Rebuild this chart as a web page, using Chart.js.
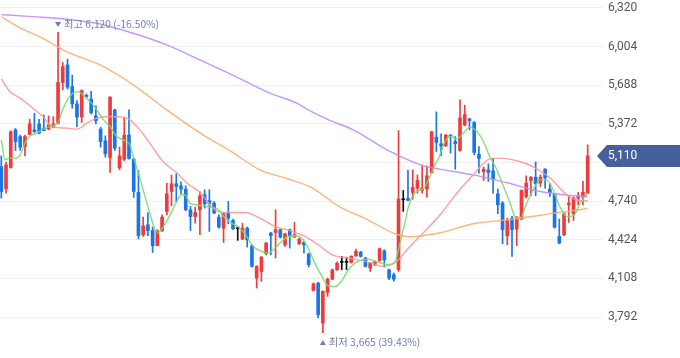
<!DOCTYPE html>
<html>
<head>
<meta charset="utf-8">
<script src="https://cdn.jsdelivr.net/npm/chart.js@4.4.1/dist/chart.umd.min.js"></script>
<style>
html,body{margin:0;padding:0;background:#fff;}
#wrap{width:680px;height:358px;position:relative;}
</style>
</head>
<body>
<div id="wrap"><canvas id="c"></canvas></div>
<script>
// ---- data ----
const opens  = [5023,4841,5015,5323,5268,5187,5284,5323,5372,5334,5329,5345,5378,5710,5854,5677,5535,5427,5606,5574,5437,5329,5233,5097,5486,5012,5083,5280,5083,4811,4465,4547,4500,4375,4498,4655,4819,4882,4865,4838,4669,4614,4669,4792,4745,4724,4609,4519,4647,4582,4514,4430,4519,4375,4111,4165,4310,4479,4484,4506,4383,4506,4446,4391,4402,4307,4010,4070,3743,3994,4102,4179,4239,4239,4239,4293,4323,4274,4193,4220,4255,4334,4179,4138,4179,4751,4762,4811,4846,4827,4838,4974,5263,5209,5192,5279,5228,5154,5361,5413,5383,5124,4980,4996,4988,4800,4724,4457,4601,4511,4593,4778,4909,4936,4887,5001,4838,4800,4451,4465,4710,4637,4765,4773,4805];
const highs  = [5110,5059,5315,5334,5280,5280,5410,5459,5410,5443,5437,5431,6120,5873,5901,5770,5562,5650,5617,5639,5519,5345,5274,5595,5492,5182,5427,5486,5092,4990,4609,4647,4528,4506,4628,4887,4953,4963,4898,4865,4696,4691,4816,4833,4833,4737,4628,4642,4737,4593,4533,4560,4528,4383,4212,4288,4402,4484,4669,4511,4479,4511,4566,4438,4410,4315,4070,4075,4007,4111,4184,4244,4288,4282,4293,4348,4329,4282,4239,4252,4356,4342,4184,4152,5317,4827,4991,4996,4955,5037,5029,5312,5470,5290,5287,5285,5268,5568,5525,5418,5391,5187,5018,5045,5091,4838,4737,4601,4615,4615,4833,4947,4941,5061,4955,5007,4882,4805,4593,4647,4778,4773,4811,4901,5200];
const lows   = [4765,4806,5010,5154,5154,5110,5282,5301,5290,5317,5323,5339,5372,5650,5656,5500,5350,5383,5582,5454,5372,5181,5100,4974,5154,4996,5072,5083,4770,4430,4451,4457,4320,4375,4492,4628,4702,4737,4800,4663,4500,4560,4465,4683,4492,4637,4519,4402,4555,4506,4419,4424,4364,4201,4029,4084,4301,4301,4274,4438,4370,4356,4443,4386,4315,4201,4004,3784,3665,3961,4097,4173,4179,4179,4233,4288,4282,4201,4165,4212,4247,4201,4097,4084,4165,4656,4746,4756,4805,4805,4773,4969,5146,5110,5187,5132,5001,5149,5356,5323,5119,4969,4909,4901,4805,4637,4391,4383,4288,4375,4587,4765,4784,4784,4860,4846,4778,4519,4391,4457,4566,4582,4710,4710,4800];
const closes = [4819,5037,5307,5227,5181,5268,5372,5309,5296,5317,5364,5372,5710,5840,5672,5535,5427,5644,5595,5464,5399,5227,5127,5590,5173,5110,5280,5088,4819,4457,4538,4500,4375,4498,4609,4800,4882,4860,4838,4669,4614,4647,4783,4718,4718,4642,4528,4637,4601,4514,4514,4519,4424,4206,4206,4282,4397,4457,4506,4446,4473,4457,4465,4429,4383,4220,4064,3811,4002,4102,4179,4233,4239,4239,4288,4329,4288,4206,4233,4247,4350,4260,4111,4102,4757,4751,4746,4852,4909,4846,4947,5307,5220,5192,5279,5268,5209,5421,5448,5399,5138,5089,5001,4974,4920,4710,4506,4582,4506,4609,4827,4887,4936,4882,4936,4931,4811,4527,4397,4637,4724,4765,4784,4813,5110];

// moving averages: [day index, value]
const ma5   = [[0,5241],[0.8,5078],[1.8,5092],[2.9,5092],[4.0,5119],[5.0,5214],[6.1,5274],[7.5,5296],[8.9,5329],[10.3,5350],[11.4,5364],[12.1,5391],[13.1,5500],[14.2,5582],[15.2,5623],[16.3,5636],[17.3,5609],[18.8,5554],[20.2,5486],[21.6,5405],[23.0,5350],[24.4,5268],[25.8,5241],[27.2,5200],[27.9,5105],[29.0,4969],[30.0,4833],[31.4,4642],[32.5,4506],[33.2,4484],[34.3,4533],[35.7,4628],[37.1,4737],[38.1,4792],[38.8,4792],[39.9,4724],[41.3,4710],[42.4,4702],[44.5,4691],[45.9,4669],[47.3,4601],[48.7,4560],[50.1,4528],[51.5,4473],[53.3,4369],[55.1,4328],[56.5,4315],[57.9,4356],[59.3,4410],[60.7,4451],[62.1,4457],[63.5,4438],[64.9,4356],[66.3,4233],[67.8,4124],[69.1,4048],[70.6,4042],[71.9,4083],[73.4,4179],[74.8,4233],[76.2,4260],[77.6,4266],[79.0,4247],[80.4,4233],[81.8,4220],[83.3,4247],[84.3,4397],[85.4,4573],[86.1,4696],[87.8,4819],[89.2,4838],[90.3,4914],[91.4,5010],[92.8,5119],[93.8,5227],[95.2,5268],[96.3,5247],[97.7,5296],[99.1,5345],[100.2,5323],[101.6,5255],[103.3,5105],[104.8,4996],[106.2,4860],[107.6,4724],[108.6,4614],[109.7,4601],[111.1,4724],[112.5,4833],[113.9,4914],[115.3,4914],[116.7,4833],[118.1,4696],[119.6,4614],[121.0,4620],[122.4,4724],[124,4808]];
const ma20  = [[0,5740],[1.8,5636],[4.0,5582],[6.7,5500],[8.8,5432],[10.7,5350],[13.9,5337],[16.0,5329],[18.1,5378],[20.2,5419],[23.0,5432],[25.7,5427],[27.2,5405],[29.3,5323],[31.4,5214],[34.2,5064],[37.2,4969],[39.3,4887],[42.0,4811],[45.2,4669],[47.9,4647],[51.5,4647],[54.3,4609],[57.9,4533],[61.5,4492],[64.2,4451],[67.0,4383],[70.0,4301],[73.7,4274],[78.4,4233],[80.5,4206],[83.3,4236],[86.4,4369],[89.2,4479],[92.8,4628],[96.4,4808],[99.8,4955],[103.3,5086],[105.4,5092],[109.0,5070],[112.4,5023],[116.0,4931],[119.6,4792],[122.4,4743],[124,4743]];
const ma60  = [[0,6246],[4.0,6157],[8.2,6083],[13.9,5960],[20.9,5854],[27.9,5691],[35,5486],[42,5298],[48.4,5151],[54.7,4996],[60.6,4923],[65.7,4849],[71.2,4702],[77.5,4587],[83.3,4473],[86.4,4449],[92.8,4481],[99.8,4555],[107,4587],[114,4624],[117.5,4645],[121.7,4665],[124,4681]];
const ma120 = [[0,6265],[6.7,6249],[13.9,6228],[20.9,6189],[27.9,6113],[35,6018],[42,5895],[48.4,5781],[56.8,5623],[62.5,5541],[64.9,5486],[68.9,5410],[74.4,5323],[82.2,5146],[89.2,5029],[92.8,5002],[99.8,4955],[107,4890],[114,4819],[121,4784],[124,4778]];

const tickValues = [3792,4108,4424,4740,5056,5372,5688,6004,6320];
const highLabel = '최고 6,120 (-16.50%)';
const lowLabel  = '최저 3,665 (39.43%)';

// ---- styling ----
const RED = '#ee3b3b', BLUE = '#1a76e8', DOJI = '#111111';
const days = opens.map((_, i) => i);
const colors = days.map(i => closes[i] > opens[i] ? RED : (closes[i] < opens[i] ? BLUE : DOJI));
const toPts = arr => arr.map(p => ({x: p[0], y: p[1]}));
const lineDs = (data, color, order) => ({
  type: 'line', data: toPts(data), borderColor: color, borderWidth: 1.4,
  pointRadius: 0, cubicInterpolationMode: 'monotone', order: order
});

const labelPlugin = {
  id: 'labels',
  afterDatasetsDraw(chart) {
    const ctx = chart.ctx, xs = chart.scales.x, ys = chart.scales.y;
    let hi = 0, lo = 0;
    highs.forEach((v, i) => { if (v > highs[hi]) hi = i; });
    lows.forEach((v, i) => { if (v < lows[lo]) lo = i; });
    ctx.save();
    ctx.fillStyle = '#6c7fb5';
    ctx.font = '10.3px "Noto Sans CJK KR", "Noto Sans", sans-serif';
    ctx.textBaseline = 'middle';
    ctx.textAlign = 'left';
    let cx = xs.getPixelForValue(hi), cy = ys.getPixelForValue(highs[hi]) - 8;
    ctx.beginPath(); ctx.moveTo(cx - 3, cy - 2.5); ctx.lineTo(cx + 3, cy - 2.5); ctx.lineTo(cx, cy + 2.5); ctx.closePath(); ctx.fill();
    ctx.fillText(highLabel, cx + 6, cy);
    cx = xs.getPixelForValue(lo); cy = ys.getPixelForValue(lows[lo]) + 10;
    ctx.beginPath(); ctx.moveTo(cx - 3, cy + 2.5); ctx.lineTo(cx + 3, cy + 2.5); ctx.lineTo(cx, cy - 2.5); ctx.closePath(); ctx.fill();
    ctx.fillText(lowLabel, cx + 6, cy);
    ctx.restore();
  },
  afterDraw(chart) {
    const ctx = chart.ctx, ys = chart.scales.y, area = chart.chartArea;
    const last = closes[closes.length - 1];
    const y = ys.getPixelForValue(last);
    const left = area.right - 6, bx = area.right + 4, right = chart.width, h = 11;
    ctx.save();
    ctx.fillStyle = '#46609c';
    ctx.beginPath();
    ctx.moveTo(left, y); ctx.lineTo(bx, y - h); ctx.lineTo(right, y - h);
    ctx.lineTo(right, y + h); ctx.lineTo(bx, y + h); ctx.closePath(); ctx.fill();
    ctx.fillStyle = '#ffffff';
    ctx.font = '12px Roboto, "Noto Sans", sans-serif';
    ctx.textBaseline = 'middle';
    ctx.fillText(last.toLocaleString('en-US'), area.right + 5, y + 0.5);
    ctx.restore();
  }
};

new Chart(document.getElementById('c'), {
  data: {
    datasets: [
      lineDs(ma5,  'rgba(120,220,110,0.9)', 0),
      lineDs(ma20, 'rgba(255,150,150,0.9)', 0.1),
      lineDs(ma60, 'rgba(255,172,112,0.9)', 0.2),
      lineDs(ma120,'rgba(190,140,255,0.9)', 0.3),
      { type: 'bar', data: days.map(i => ({x: i, y: [opens[i], closes[i]]})), backgroundColor: colors,
        barThickness: 3, grouped: false, minBarLength: 1, order: 1 },
      { type: 'bar', data: days.map(i => ({x: i, y: [lows[i], highs[i]]})), backgroundColor: colors,
        barThickness: 1, grouped: false, order: 2 }
    ]
  },
  options: {
    responsive: true, maintainAspectRatio: false, animation: false,
    layout: { padding: 0 },
    plugins: { legend: { display: false }, tooltip: { enabled: false } },
    events: [],
    scales: {
      x: { type: 'linear', display: false, min: -0.275, max: 127.24, offset: false },
      y: {
        position: 'right', min: 3457, max: 6385,
        afterBuildTicks(scale) { scale.ticks = tickValues.map(v => ({value: v})); },
        afterFit(scale) { scale.width = 77; scale.paddingTop = 0; scale.paddingBottom = 0; },
        grid: { color: '#efefef', drawTicks: false, lineWidth: 1 },
        border: { display: false },
        ticks: { autoSkip: false, padding: 5, color: '#555555',
          font: { family: 'Roboto, "Noto Sans", sans-serif', size: 12 },
          callback: v => v.toLocaleString('en-US') }
      }
    }
  },
  plugins: [labelPlugin]
});
</script>
</body>
</html>
